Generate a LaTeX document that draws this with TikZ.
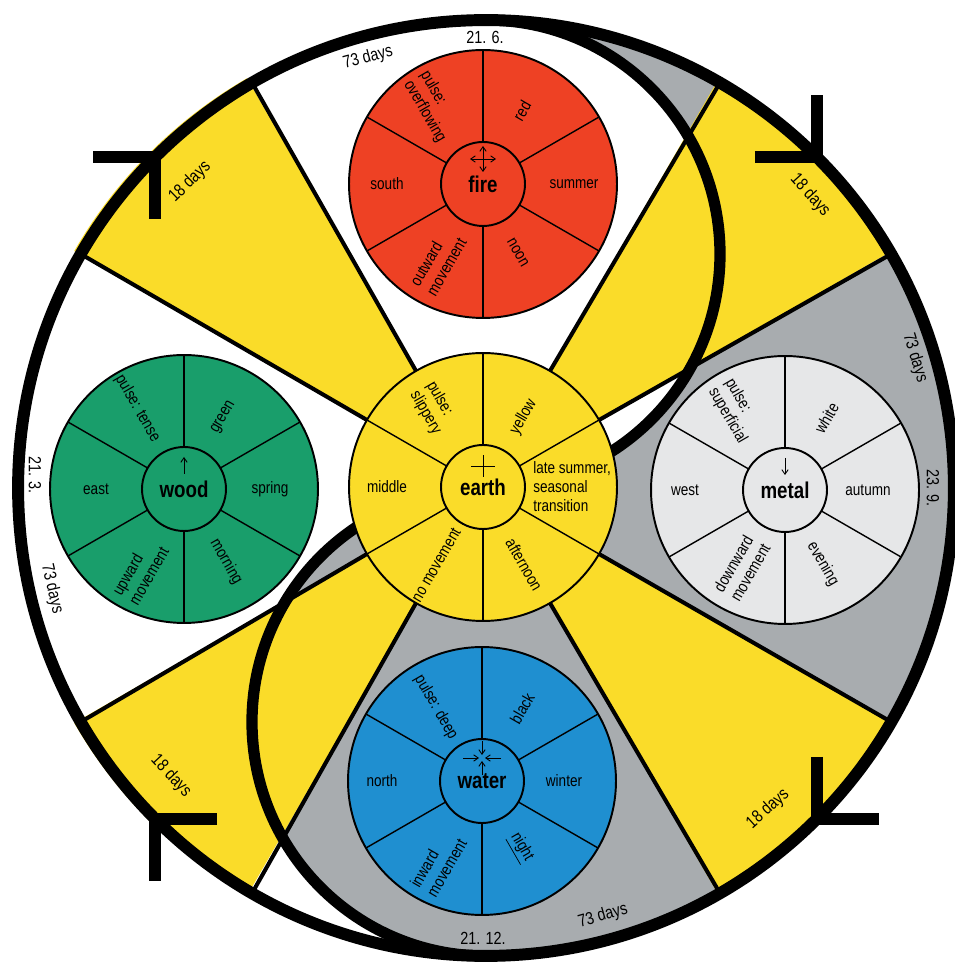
\documentclass[tikz,border=0pt]{standalone}
\usepackage{fontspec}
\setmainfont{Liberation Sans}[FakeStretch=0.82]
\usetikzlibrary{calc, arrows.meta}
\definecolor{firered}{RGB}{238,65,36}
\definecolor{woodgreen}{RGB}{25,158,107}
\definecolor{earthyellow}{RGB}{250,220,41}
\definecolor{metalgray}{RGB}{230,231,232}
\definecolor{waterblue}{RGB}{31,143,208}
\definecolor{yingray}{RGB}{168,172,175}

\begin{document}
\begin{tikzpicture}[
    x=0.02cm, y=0.02cm,
    disc/.style={circle, draw=black, line width=1.1pt, minimum size=5.36cm,
      inner sep=0pt, outer sep=0pt},
    hub/.style={circle, draw=black, line width=1.1pt, minimum size=1.68cm,
      inner sep=0pt, outer sep=0pt, font=\fontsize{13}{13}\selectfont\bfseries},
    spoke/.style={line width=0.8pt},
    sector/.style={line width=2.3pt},
    rim/.style={line width=6.4pt},
    chevron/.style={line width=6.8pt, line join=miter, miter limit=10},
    sym/.style={line width=0.5pt, -{Straight Barb[length=2.6pt, width=3.6pt]}},
    symboth/.style={line width=0.5pt,
      {Straight Barb[length=2.6pt, width=3.6pt]}-{Straight Barb[length=2.6pt, width=3.6pt]}},
    lbl/.style={font=\fontsize{9.4}{10.8}\selectfont, inner sep=0pt},
    days/.style={font=\fontsize{10}{12}\selectfont, inner sep=0pt},
  ]
  \useasboundingbox (-483,-475) rectangle (471,487);

  % yin half, then the four 18-day wedges
  \fill[yingray] (3,467) arc[start angle=90, end angle=-90, radius=468]
    arc[start angle=270, end angle=90, radius=234]
    arc[start angle=-90, end angle=90, radius=234] -- cycle;
  \fill[earthyellow] (0,0) -- (30:470) arc[start angle=30, end angle=60, radius=470] -- cycle;
  \fill[earthyellow] (0,0) -- (120:472) arc[start angle=120, end angle=150, radius=472] -- cycle;
  \fill[earthyellow] (0,0) -- (210:472) arc[start angle=210, end angle=240, radius=472] -- cycle;
  \fill[earthyellow] (0,0) -- (300:470) arc[start angle=300, end angle=330, radius=470] -- cycle;

  % s-curve and outer ring
  \draw[rim] (3,467) arc[start angle=90, end angle=-90, radius=234]
    arc[start angle=90, end angle=270, radius=234];
  \node[circle, draw=black, line width=6.8pt, minimum size=18.72cm,
    inner sep=0pt, outer sep=0pt] (ring) at (3,-1) {};

  % earth
  \node[disc, fill=earthyellow] (earth) at (0,0) {};
  \node[hub, fill=earthyellow] (earth-hub) at (earth) {earth};
  \foreach \a in {30,90,...,330} \draw[spoke] (earth-hub.\a) -- (earth.\a);
  \foreach \a in {30,60,120,150,210,240,300,330} \draw[sector] (earth.\a) -- (ring.\a);
  \node[lbl, rotate=60] (earth-colour) at ($(earth)+(60:81)$) {yellow};
  \node[lbl, align=left, anchor=west] (earth-season) at ($(earth)+(50,0)$) {late summer,\\seasonal\\transition};
  \node[lbl, rotate=-60] (earth-time) at ($(earth)+(-62:88)$) {afternoon};
  \node[lbl, rotate=60] (earth-move) at ($(earth)+(239:91)$) {no movement};
  \node[lbl] (earth-dir) at ($(earth)+(180:96)$) {middle};
  \node[lbl, rotate=-60, align=left] (earth-pulse) at ($(earth)+(122:93)$) {pulse:\\slippery};
  \draw[line width=0.5pt] ($(earth-hub)+(-12,21)$) -- ($(earth-hub)+(12,21)$);
  \draw[line width=0.5pt] ($(earth-hub)+(0,10)$) -- ($(earth-hub)+(0,32)$);

  % fire
  \node[disc, fill=firered] (fire) at (0,303) {};
  \node[hub, fill=firered] (fire-hub) at (fire) {fire};
  \foreach \a in {30,90,...,330} \draw[spoke] (fire-hub.\a) -- (fire.\a);
  \node[lbl, rotate=60] (fire-colour) at ($(fire)+(62:83)$) {red};
  \node[lbl] (fire-season) at ($(fire)+(0:91)$) {summer};
  \node[lbl, rotate=-60] (fire-time) at ($(fire)+(-63:77)$) {noon};
  \node[lbl, rotate=60, align=left] (fire-move) at ($(fire)+(240:90)$) {outward\\movement};
  \node[lbl] (fire-dir) at ($(fire)+(180:96)$) {south};
  \node[lbl, rotate=-60, align=left] (fire-pulse) at ($(fire)+(123:92)$) {pulse:\\overflowing};
  \draw[symboth] ($(fire-hub)+(-13,25)$) -- ($(fire-hub)+(13,25)$);
  \draw[symboth] ($(fire-hub)+(0,12)$) -- ($(fire-hub)+(0,38)$);

  % wood
  \node[disc, fill=woodgreen] (wood) at (-299,-2) {};
  \node[hub, fill=woodgreen] (wood-hub) at (wood) {wood};
  \foreach \a in {30,90,...,330} \draw[spoke] (wood-hub.\a) -- (wood.\a);
  \node[lbl, rotate=60] (wood-colour) at ($(wood)+(61:82)$) {green};
  \node[lbl] (wood-season) at ($(wood)+(0:86)$) {spring};
  \node[lbl, rotate=-60] (wood-time) at ($(wood)+(-60:84)$) {morning};
  \node[lbl, rotate=60, align=left] (wood-move) at ($(wood)+(242:93)$) {upward\\movement};
  \node[lbl] (wood-dir) at ($(wood)+(180:88)$) {east};
  \node[lbl, rotate=-60] (wood-pulse) at ($(wood)+(120:93)$) {pulse: tense};
  \draw[sym] ($(wood-hub)+(0,15)$) -- ($(wood-hub)+(0,32)$);

  % metal
  \node[disc, fill=metalgray] (metal) at (302,-3) {};
  \node[hub, fill=metalgray] (metal-hub) at (metal) {metal};
  \foreach \a in {30,90,...,330} \draw[spoke] (metal-hub.\a) -- (metal.\a);
  \node[lbl, rotate=60] (metal-colour) at ($(metal)+(60:83)$) {white};
  \node[lbl] (metal-season) at ($(metal)+(0:83)$) {autumn};
  \node[lbl, rotate=-60] (metal-time) at ($(metal)+(-63:83)$) {evening};
  \node[lbl, rotate=60, align=left] (metal-move) at ($(metal)+(241:89)$) {downward\\movement};
  \node[lbl] (metal-dir) at ($(metal)+(180:100)$) {west};
  \node[lbl, rotate=-60, align=left] (metal-pulse) at ($(metal)+(122:93)$) {pulse:\\superficial};
  \draw[sym] ($(metal-hub)+(0,32)$) -- ($(metal-hub)+(0,15)$);

  % water
  \node[disc, fill=waterblue] (water) at (-1,-294) {};
  \node[hub, fill=waterblue] (water-hub) at (water) {water};
  \foreach \a in {30,90,...,330} \draw[spoke] (water-hub.\a) -- (water.\a);
  \node[lbl, rotate=60] (water-colour) at ($(water)+(61:83)$) {black};
  \node[lbl] (water-season) at ($(water)+(0:82)$) {winter};
  \node[lbl, rotate=-60] (water-time) at ($(water)+(-60:77)$) {\underline{night}};
  \node[lbl, rotate=60, align=left] (water-move) at ($(water)+(242:93)$) {inward\\movement};
  \node[lbl] (water-dir) at ($(water)+(180:100)$) {north};
  \node[lbl, rotate=-60] (water-pulse) at ($(water)+(122:87)$) {pulse: deep};
  \draw[sym] ($(water-hub)+(-19,23)$) -- ($(water-hub)+(-3,23)$);
  \draw[sym] ($(water-hub)+(19,23)$) -- ($(water-hub)+(3,23)$);
  \draw[sym] ($(water-hub)+(0,40)$) -- ($(water-hub)+(0,26)$);
  \draw[sym] ($(water-hub)+(0,6)$) -- ($(water-hub)+(0,20)$);

  % clockwise marks on the ring
  \draw[chevron] ($(ring.135)+(-62,0)$) -- (ring.135) -- ($(ring.135)+(0,-62)$);
  \draw[chevron] ($(ring.45)+(-62,0)$) -- (ring.45) -- ($(ring.45)+(0,62)$);
  \draw[chevron] ($(ring.315)+(0,62)$) -- (ring.315) -- ($(ring.315)+(62,0)$);
  \draw[chevron] ($(ring.225)+(62,0)$) -- (ring.225) -- ($(ring.225)+(0,-62)$);

  % dates and lengths
  \node[days] (date-jun) at (2,450) {21. 6.};
  \node[days, rotate=-90] (date-sep) at (450,-1) {23. 9.};
  \node[days] (date-dec) at (0,-451) {21. 12.};
  \node[days, rotate=-90] (date-mar) at (-448,12) {21. 3.};
  \node[days, rotate=15] (span-fire) at (-115,429) {73 days};
  \node[days, rotate=-73] (span-metal) at (432,129) {73 days};
  \node[days, rotate=16] (span-water) at (120,-429) {73 days};
  \node[days, rotate=-77] (span-wood) at (-431,-102) {73 days};
  \node[days, rotate=44] (wedge-nw) at (-293,305) {18 days};
  \node[days, rotate=-48] (wedge-ne) at (327,292) {18 days};
  \node[days, rotate=42] (wedge-se) at (285,-322) {18 days};
  \node[days, rotate=-47] (wedge-sw) at (-312,-289) {18 days};
\end{tikzpicture}
\end{document}
